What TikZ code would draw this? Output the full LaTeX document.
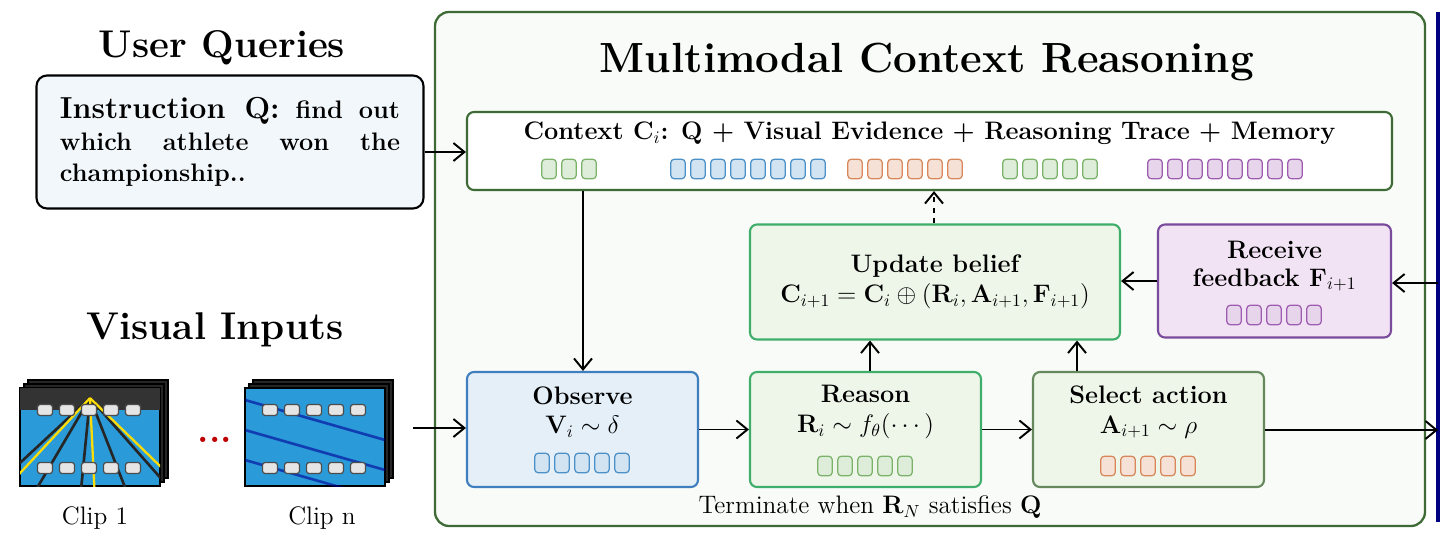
\documentclass[tikz,border=0pt]{standalone}
\usepackage{amsmath,bm}
\usetikzlibrary{positioning,arrows.meta}
\definecolor{panelgreen}{HTML}{3E6B35}
\definecolor{boxgreen}{HTML}{3FAE6A}
\definecolor{fillgreen}{HTML}{EEF6EA}
\definecolor{boxblue}{HTML}{3F7FC0}
\definecolor{fillblue}{HTML}{E4EFF8}
\definecolor{boxpurple}{HTML}{7A4A9C}
\definecolor{fillpurple}{HTML}{F2E3F4}
\definecolor{tokgreen}{HTML}{7BB26A}
\definecolor{tokblue}{HTML}{4C90C8}
\definecolor{tokorange}{HTML}{D9875A}
\definecolor{tokpurple}{HTML}{9E5CB0}
\definecolor{pool}{HTML}{2B9AD8}
\tikzset{
  stage/.style = {draw, rounded corners=4pt, line width=1.2pt, align=center, font=\bfseries\large},
  tok/.style = {draw=#1, fill=#1!25, rounded corners=2pt, line width=0.7pt, minimum width=2.9mm, minimum height=3.9mm, inner sep=0pt},
  cliptok/.style = {draw=black!70, fill=white!80!gray, rounded corners=1.5pt, line width=0.7pt, minimum width=3mm, minimum height=2.2mm, inner sep=0pt},
  arr/.style = {-{Straight Barb[length=2.2mm,width=3.6mm]}, line width=1.1pt},
}
\newcommand{\tokrow}[4]{% x0, y, n, colour
  \foreach \k in {1,...,#3} \node[tok=#4] at ({#1+(\k-1)*20},#2) {};}
\newcommand{\clipframe}[2]{% x, y
  \foreach \d in {8,4} \draw[fill=black!85, line width=0.6pt] (#1+\d,#2-\d) rectangle ++(140,98);
  \draw[fill=pool, line width=0.8pt] (#1,#2) rectangle ++(140,98);}
\newcommand{\cliptoks}[2]{%
  \foreach \k in {0,...,4} {
    \node[cliptok] at (#1+25+\k*22,#2+22) {};
    \node[cliptok] at (#1+25+\k*22,#2+80) {};}}
\begin{document}
\begin{tikzpicture}[x=0.2mm, y=-0.2mm]
\useasboundingbox (0,0) rectangle (1440,546);
% Linke Seite: Anfrage und Bilder
\node[font=\bfseries\fontsize{22}{26}\selectfont] (uqtitle) at (222,48) {User Queries};
\node[draw, line width=1.2pt, rounded corners=6pt, fill=fillblue!50, minimum width=77.4mm, minimum height=26.6mm] (query) at (230,142) {};
\node[text width=68mm, align=justify, font=\bfseries\Large, inner sep=0pt] at (query) {{\LARGE Instruction Q:} find out which athlete won the championship..};
\node[font=\bfseries\fontsize{22}{26}\selectfont] (vititle) at (215,330) {Visual Inputs};
\clipframe{20}{388}
\begin{scope}
  \clip (20,388) rectangle ++(140,98);
  \fill[black!80] (20,388) rectangle ++(140,22);
  \foreach \x in {-40,10,60,110,160} \draw[black!85, line width=1.5pt] (90,398) -- (\x+20,500);
  \foreach \x in {-15,85,185} \draw[yellow!80!orange, line width=1.3pt] (90,398) -- (\x+10,500);
\end{scope}
\cliptoks{20}{388}
\clipframe{245}{388}
\begin{scope}
  \clip (245,388) rectangle ++(140,98);
  \foreach \o in {0,30,60} \draw[blue!60!black, line width=1.5pt, opacity=0.6] (245,400+\o) -- (385,440+\o);
\end{scope}
\cliptoks{245}{388}
\node[text=red!75!black, font=\bfseries\huge] (dots) at (215,440) {...};
\node[font=\Large] (clipAlbl) at (95,518) {Clip 1};
\node[font=\Large] (clipBlbl) at (322,518) {Clip n};
\coordinate (clipout) at (413,428);
% Rechte Seite: Rahmen
\draw[panelgreen, line width=1.3pt, rounded corners=8pt, fill=fillgreen!40] (435,12) rectangle (1425,526);
\draw[blue!50!black, line width=2pt] (1438,12) -- (1438,522);
\node[font=\bfseries\fontsize{24}{28}\selectfont] (mtitle) at (927,62) {Multimodal Context Reasoning};
% Kontext
\node[stage, draw=panelgreen, fill=white, minimum width=185mm, minimum height=15.6mm] (ctx) at (929.5,151) {};
\node[font=\bfseries\Large] at (929.5,133) {Context $\mathbf{C}_i$: Q + Visual Evidence + Reasoning Trace + Memory};
\tokrow{549}{169}{3}{tokgreen}
\tokrow{678}{169}{8}{tokblue}
\tokrow{855}{169}{6}{tokorange}
\tokrow{1010}{169}{5}{tokgreen}
\tokrow{1155}{169}{8}{tokpurple}
% Schritte
\node[stage, draw=boxgreen, fill=fillgreen, minimum width=74mm, minimum height=23mm] (upd) at (935,282) {};
\node[font=\bfseries\Large, align=center] at (935,282) {Update belief\\[-1pt] $\mathbf{C}_{i+1}=\mathbf{C}_i\oplus(\mathbf{R}_i,\mathbf{A}_{i+1},\mathbf{F}_{i+1})$};
\node[stage, draw=boxpurple, fill=fillpurple, minimum width=46.6mm, minimum height=22.6mm] (fb) at (1274.5,281) {};
\node[font=\bfseries\Large, align=center] at (1274.5,266) {Receive\\[-2pt] feedback $\mathbf{F}_{i+1}$};
\tokrow{1234}{315}{5}{tokpurple}
\node[stage, draw=boxblue, fill=fillblue, minimum width=46.2mm, minimum height=23mm] (obs) at (582.5,429.5) {};
\node[font=\bfseries\Large, align=center] at (582.5,412) {Observe\\[-1pt] $\mathbf{V}_i\sim\delta$};
\tokrow{542}{463}{5}{tokblue}
\node[stage, draw=boxgreen, fill=fillgreen, minimum width=46.2mm, minimum height=23mm] (rsn) at (865.5,429.5) {};
\node[font=\bfseries\Large, align=center] at (865.5,412) {Reason\\[-1pt] $\mathbf{R}_i\sim f_\theta(\cdots)$};
\tokrow{825}{466}{5}{tokgreen}
\node[stage, draw=panelgreen!80, fill=fillgreen, minimum width=46.2mm, minimum height=23mm] (sel) at (1148.5,429.5) {};
\node[font=\bfseries\Large, align=center] at (1148.5,412) {Select action\\[-1pt] $\mathbf{A}_{i+1}\sim\rho$};
\tokrow{1108}{466}{5}{tokorange}
\node[font=\Large] (term) at (870,507) {Terminate when $\mathbf{R}_N$ satisfies $\mathbf{Q}$};
\coordinate (edge) at (1438,283);
\coordinate (edgeB) at (1438,430);
% Pfeile
\draw[arr] (query.east |- 0,152) -- (ctx.west |- 0,152);
\draw[arr] (ctx.south -| 583,0) -- (obs.north -| 583,0);
\draw[arr] (clipout) -- (obs.west |- clipout);
\draw[arr] (obs) -- (rsn);
\draw[arr] (rsn) -- (sel);
\draw[arr] (rsn.north -| 870,0) -- (upd.south -| 870,0);
\draw[arr] (sel.north -| 1077,0) -- (upd.south -| 1077,0);
\draw[arr, dashed] (upd.north -| 934,0) -- (ctx.south -| 934,0);
\draw[arr] (fb) -- (upd.east |- fb);
\draw[arr] (edge) -- (fb.east |- edge);
\draw[arr] (sel.east |- edgeB) -- (edgeB);
\end{tikzpicture}
\end{document}
